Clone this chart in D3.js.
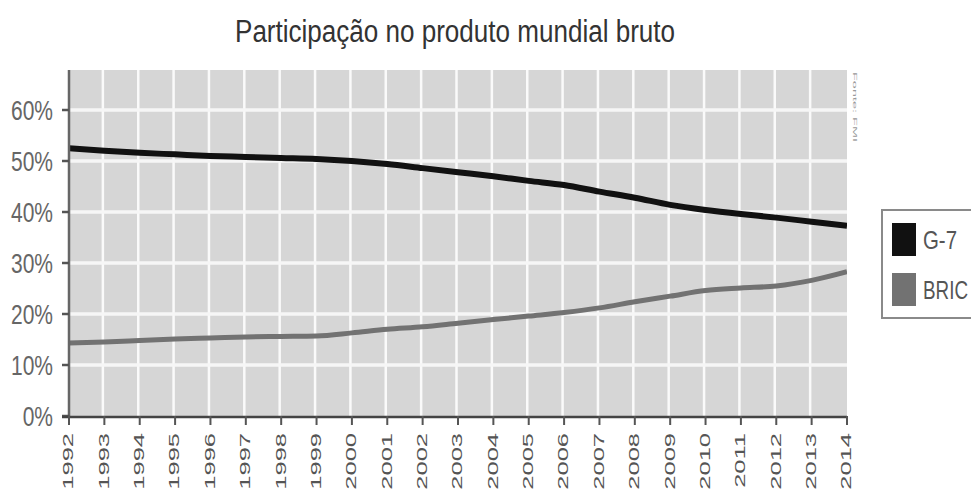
<!DOCTYPE html>
<html lang="pt">

<head>
  <meta charset="UTF-8" />
  <title>Participação no produto mundial bruto</title>
  <script src="https://cdn.jsdelivr.net/npm/d3@7"></script>
  <style>
    body { margin: 0; background: #fff; }
    text { font-family: "Liberation Sans", Arial, sans-serif; }
  </style>
</head>

<body>
  <svg id="svg"></svg>
</body>

<script>
  const years = d3.range(1992, 2015);
  const g7 = [52.5, 52.0, 51.6, 51.3, 51.0, 50.8, 50.6, 50.4, 50.0, 49.4, 48.6, 47.8, 47.0,
    46.1, 45.3, 44.0, 42.8, 41.4, 40.4, 39.6, 38.9, 38.1, 37.3];
  const bric = [14.3, 14.5, 14.8, 15.1, 15.3, 15.5, 15.6, 15.7, 16.3, 17.0, 17.5, 18.2, 18.9,
    19.6, 20.3, 21.2, 22.4, 23.5, 24.6, 25.1, 25.5, 26.6, 28.3];
  const yTicks = [0, 10, 20, 30, 40, 50, 60];
  const seriesNames = ["G-7", "BRIC"];
  const seriesColors = ["#111111", "#727272"];

  const width = 971;
  const height = 492;
  const plot = { left: 69, right: 847, top: 70, bottom: 416 };

  const svg = d3.select("#svg").attr("width", width).attr("height", height);

  const xScale = d3.scaleLinear().domain([1992, 2014]).range([plot.left, plot.right]);
  const yScale = d3.scaleLinear().domain([0, 60]).range([plot.bottom, 110]);

  // title
  svg.append("text")
    .attr("transform", "translate(455, 42) scale(1, 1.33)")
    .attr("text-anchor", "middle")
    .attr("font-size", 23)
    .attr("fill", "#333")
    .attr("textLength", 440)
    .attr("lengthAdjust", "spacingAndGlyphs")
    .text("Participação no produto mundial bruto");

  // plot background
  svg.append("rect")
    .attr("x", plot.left)
    .attr("y", plot.top)
    .attr("width", plot.right - plot.left)
    .attr("height", plot.bottom - plot.top)
    .attr("fill", "#d6d6d6");

  // grid
  svg.append("g")
    .selectAll("line")
    .data(years.slice(1, -1))
    .join("line")
    .attr("x1", d => xScale(d) - 1.5)
    .attr("x2", d => xScale(d) - 1.5)
    .attr("y1", plot.top)
    .attr("y2", plot.bottom)
    .attr("stroke", "#fafafa")
    .attr("stroke-width", 2.5);

  svg.append("g")
    .selectAll("line")
    .data(yTicks.slice(1))
    .join("line")
    .attr("x1", plot.left)
    .attr("x2", plot.right)
    .attr("y1", d => yScale(d))
    .attr("y2", d => yScale(d))
    .attr("stroke", "#f6f6f6")
    .attr("stroke-width", 3.5);

  // lines
  svg.append("clipPath").attr("id", "clip")
    .append("rect")
    .attr("x", plot.left)
    .attr("y", plot.top)
    .attr("width", plot.right - plot.left)
    .attr("height", plot.bottom - plot.top);

  const line = d3.line()
    .x((d, i) => xScale(years[i]))
    .y(d => yScale(d))
    .curve(d3.curveMonotoneX);

  [g7, bric].forEach((vals, i) => {
    svg.append("path")
      .datum(vals)
      .attr("clip-path", "url(#clip)")
      .attr("fill", "none")
      .attr("stroke", seriesColors[i])
      .attr("stroke-width", i === 0 ? 6 : 5)
      .attr("d", line);
  });

  // y axis
  const yAxis = svg.append("g");
  yAxis.append("line")
    .attr("x1", plot.left).attr("x2", plot.left)
    .attr("y1", plot.top).attr("y2", plot.bottom)
    .attr("stroke", "#666").attr("stroke-width", 2.5);
  yAxis.selectAll(".tick")
    .data(yTicks)
    .join("line")
    .attr("x1", 62).attr("x2", plot.left)
    .attr("y1", d => yScale(d)).attr("y2", d => yScale(d))
    .attr("stroke", "#555").attr("stroke-width", 2.5);
  yAxis.selectAll("text")
    .data(yTicks)
    .join("text")
    .attr("transform", d => `translate(53, ${yScale(d)}) scale(1, 1.33)`)
    .attr("text-anchor", "end")
    .attr("dominant-baseline", "central")
    .attr("font-size", 21)
    .attr("fill", "#666")
    .text(d => d + "%");

  // x axis
  const xAxis = svg.append("g");
  xAxis.append("line")
    .attr("x1", 62).attr("x2", plot.right)
    .attr("y1", plot.bottom + 1).attr("y2", plot.bottom + 1)
    .attr("stroke", "#444").attr("stroke-width", 2.5);
  xAxis.selectAll(".tick")
    .data(years)
    .join("line")
    .attr("x1", d => xScale(d)).attr("x2", d => xScale(d))
    .attr("y1", plot.bottom).attr("y2", 425)
    .attr("stroke", "#555").attr("stroke-width", 2);
  xAxis.selectAll("text")
    .data(years)
    .join("text")
    .attr("transform", d => `translate(${xScale(d) - 1}, 433) rotate(-90) scale(1.7, 1)`)
    .attr("text-anchor", "end")
    .attr("dominant-baseline", "central")
    .attr("font-size", 15)
    .attr("fill", "#555")
    .text(d => d);

  // small vertical note
  svg.append("text")
    .attr("transform", "translate(855, 72) rotate(90)")
    .attr("font-size", 6)
    .attr("fill", "#999")
    .attr("dominant-baseline", "central")
    .attr("textLength", 70)
    .attr("lengthAdjust", "spacingAndGlyphs")
    .text("Fonte: FMI");

  // legend
  const legend = svg.append("g");
  legend.append("rect")
    .attr("x", 882).attr("y", 210)
    .attr("width", 100).attr("height", 108)
    .attr("fill", "#fff")
    .attr("stroke", "#8a8a8a")
    .attr("stroke-width", 2);
  seriesNames.forEach((name, i) => {
    legend.append("rect")
      .attr("x", 892).attr("y", 223 + i * 50)
      .attr("width", 24).attr("height", 33)
      .attr("fill", seriesColors[i]);
    legend.append("text")
      .attr("transform", `translate(923, ${240 + i * 50}) scale(1, 1.33)`)
      .attr("dominant-baseline", "central")
      .attr("font-size", 20)
      .attr("fill", "#555")
      .attr("textLength", i === 0 ? 34 : 45)
      .attr("lengthAdjust", "spacingAndGlyphs")
      .text(name);
  });
</script>

</html>
